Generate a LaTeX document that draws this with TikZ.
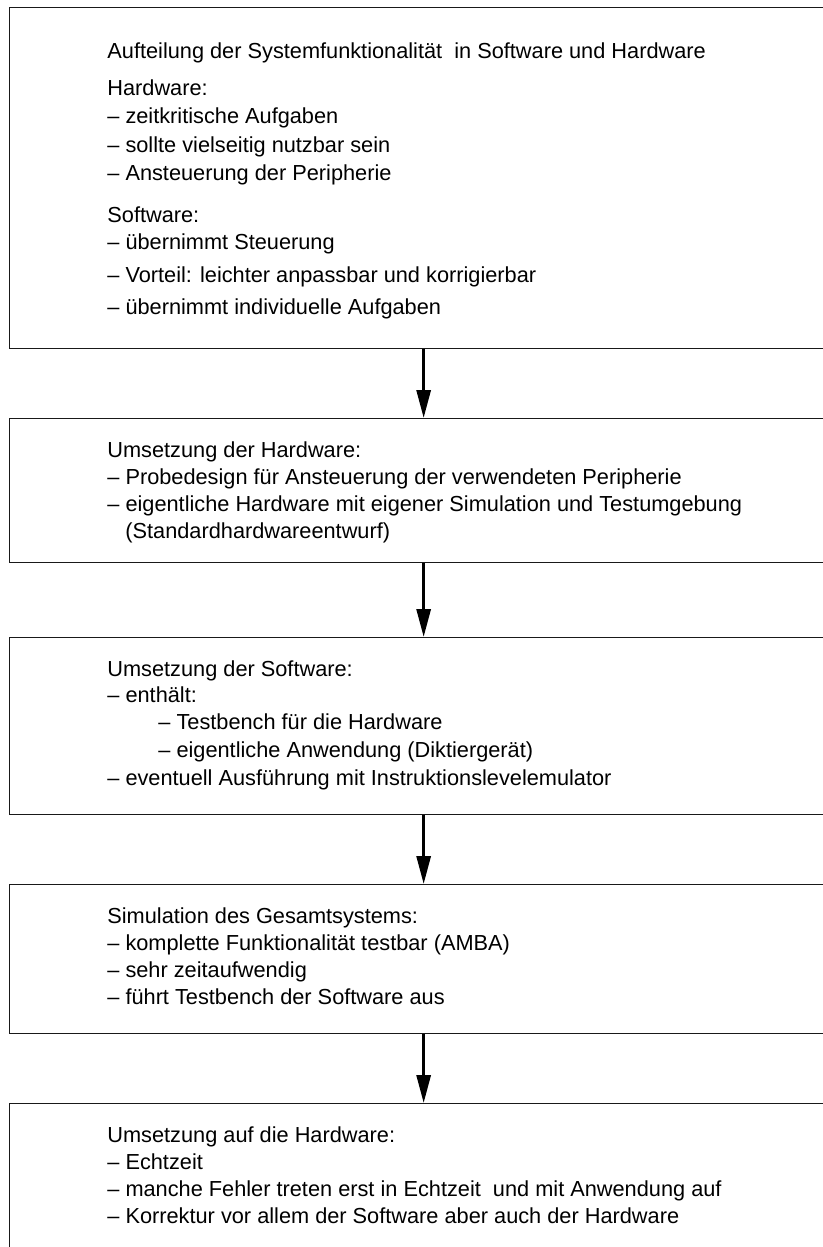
\documentclass[tikz,border=0pt]{standalone}
\usepackage{fontspec}
\setmainfont{Liberation Sans}
\usetikzlibrary{arrows.meta}
\begin{document}
\begin{tikzpicture}[x=0.5pt,y=-0.5pt,
  stage/.style={draw=black!90,line width=0.65pt,rectangle,inner sep=0pt,
    minimum width=414pt,anchor=north west},
  line/.style={anchor=base west,inner sep=0pt,font=\fontsize{10.875pt}{13.6pt}\selectfont},
  flow/.style={line width=1.5pt,-{Triangle[width=7pt,length=14pt]}}]
\useasboundingbox (0,0) rectangle (823,1247);
\clip (0,0) rectangle (823,1247);

% stage boxes (right edges run past the page)
\node[stage,minimum height=170.5pt] (b1) at (9,7) {};
\node[stage,minimum height=72pt]    (b2) at (9,418) {};
\node[stage,minimum height=88.5pt]  (b3) at (9,637) {};
\node[stage,minimum height=74.5pt]  (b4) at (9,884) {};
\node[stage,minimum height=80pt]    (b5) at (9,1103) {};

% box 1
\node[line] (t11) at (107,59)  {Aufteilung der Systemfunktionalität\ \ in Software und Hardware};
\node[line] (t12) at (107,96)  {Hardware:};
\node[line] (t13) at (107,124) {– zeitkritische Aufgaben};
\node[line] (t14) at (107,152) {– sollte vielseitig nutzbar sein};
\node[line] (t15) at (107,180) {– Ansteuerung der Peripherie};
\node[line] (t16) at (107,222) {Software:};
\node[line] (t17) at (107,249) {– übernimmt Steuerung};
\node[line] (t18) at (107,282) {– Vorteil: leichter anpassbar und korrigierbar};
\node[line] (t19) at (107,314) {– übernimmt individuelle Aufgaben};

% box 2
\node[line] (t21) at (107,457) {Umsetzung der Hardware:};
\node[line] (t22) at (107,484) {– Probedesign für Ansteuerung der verwendeten Peripherie};
\node[line] (t23) at (107,511) {– eigentliche Hardware mit eigener Simulation und Testumgebung};
\node[line] (t24) at (125,538) {(Standardhardwareentwurf)};

% box 3
\node[line] (t31) at (107,676) {Umsetzung der Software:};
\node[line] (t32) at (107,702) {– enthält:};
\node[line] (t33) at (158,729) {– Testbench für die Hardware};
\node[line] (t34) at (158,757) {– eigentliche Anwendung (Diktiergerät)};
\node[line] (t35) at (107,785) {– eventuell Ausführung mit Instruktionslevelemulator};

% box 4
\node[line] (t41) at (107,923)  {Simulation des Gesamtsystems:};
\node[line] (t42) at (107,950)  {– komplette Funktionalität testbar (AMBA)};
\node[line] (t43) at (107,977)  {– sehr zeitaufwendig};
\node[line] (t44) at (107,1004) {– führt Testbench der Software aus};

% box 5
\node[line] (t51) at (107,1142) {Umsetzung auf die Hardware:};
\node[line] (t52) at (107,1169) {– Echtzeit};
\node[line] (t53) at (107,1196) {– manche Fehler treten erst in Echtzeit\ \ und mit Anwendung auf};
\node[line] (t54) at (107,1223) {– Korrektur vor allem der Software aber auch der Hardware};

% flow arrows
\draw[flow] (b1.south) -- (b2.north);
\draw[flow] (b2.south) -- (b3.north);
\draw[flow] (b3.south) -- (b4.north);
\draw[flow] (b4.south) -- (b5.north);
\end{tikzpicture}
\end{document}
